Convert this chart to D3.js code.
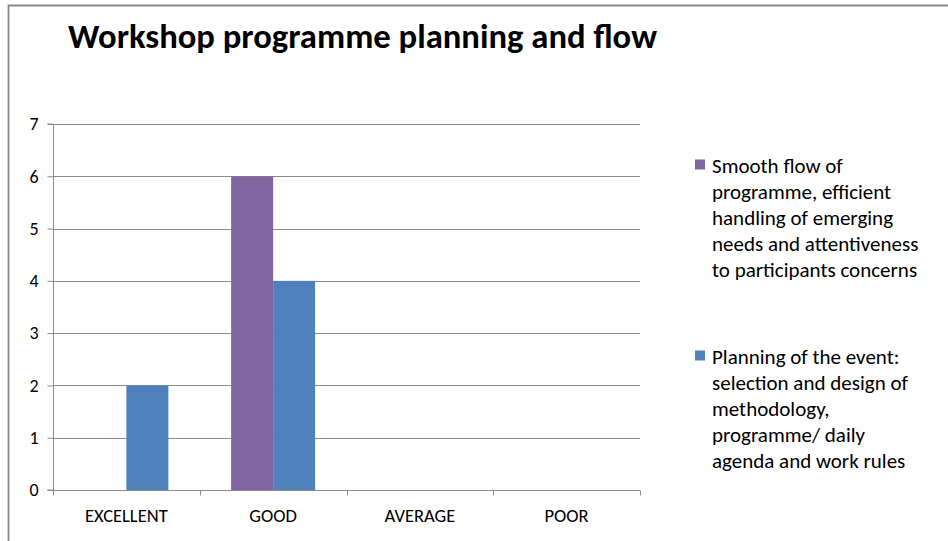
<!DOCTYPE html>
<html>
<head>
<meta charset="utf-8">
<script src="https://cdn.jsdelivr.net/npm/d3@7"></script>
<style>
  html, body { margin: 0; padding: 0; background: #fff; }
  svg { display: block; }
</style>
</head>
<body>
<svg id="chart" width="948" height="541"></svg>
<script>
// Ratings per category for each workshop aspect
const categories = ["EXCELLENT", "GOOD", "AVERAGE", "POOR"];
const seriesNames = [
  "Smooth flow of programme, efficient handling of emerging needs and attentiveness to participants concerns",
  "Planning of the event: selection and design of methodology, programme/ daily agenda and work rules"
];
const smoothFlowValues = [0, 6, 0, 0];
const planningValues = [2, 4, 0, 0];
const yTicks = [0, 1, 2, 3, 4, 5, 6, 7];
const seriesColors = ["#8064A2", "#4F81BD"];

const legendLines = [
  ["Smooth flow of", "programme, efficient", "handling of emerging", "needs and attentiveness", "to participants concerns"],
  ["Planning of the event:", "selection and design of", "methodology,", "programme/ daily", "agenda and work rules"]
];

const series = [smoothFlowValues, planningValues];
const FONT = "Carlito, Calibri, 'Open Sans', sans-serif";

const svg = d3.select("#chart");

// outer frame (top and left edges visible)
svg.append("path")
  .attr("d", "M8.5,541 L8.5,5.5 L948,5.5")
  .attr("fill", "none").attr("stroke", "#8a8a8a").attr("stroke-width", 1.8);

// title
svg.append("text")
  .attr("x", 68).attr("y", 48)
  .attr("font-family", FONT).attr("font-weight", "bold")
  .attr("font-size", 34).attr("fill", "#000")
  .attr("textLength", 589).attr("lengthAdjust", "spacingAndGlyphs")
  .text("Workshop programme planning and flow");

const plot = { left: 53, right: 640, top: 124, bottom: 490 };

const y = d3.scaleLinear().domain([0, 7]).range([plot.bottom, plot.top]);
const x0 = d3.scaleBand().domain(categories)
  .range([plot.left, plot.right])
  .paddingInner(0.4276).paddingOuter(0.2138);
const x1 = d3.scaleBand().domain(d3.range(series.length))
  .range([0, x0.bandwidth()]);

const g = svg.append("g");

// horizontal gridlines
g.selectAll("line.grid").data(yTicks.filter(d => d > 0)).join("line")
  .attr("class", "grid")
  .attr("x1", plot.left).attr("x2", plot.right)
  .attr("y1", d => Math.round(y(d)) + 0.5).attr("y2", d => Math.round(y(d)) + 0.5)
  .attr("stroke", "#8c8c8c").attr("stroke-width", 1);

// bars
series.forEach((vals, si) => {
  g.selectAll("rect.s" + si).data(categories.map((c, i) => ({ c, v: vals[i] })))
    .join("rect")
    .attr("class", "s" + si)
    .attr("x", d => x0(d.c) + x1(si))
    .attr("width", x1.bandwidth())
    .attr("y", d => y(d.v))
    .attr("height", d => y(0) - y(d.v))
    .attr("fill", seriesColors[si]);
});

// y axis
const yAxis = d3.axisLeft(y).tickValues(yTicks).tickSize(6).tickPadding(9).tickFormat(d3.format("d"));
const ya = svg.append("g").attr("transform", `translate(${plot.left + 0.5},0)`).call(yAxis);
ya.select(".domain").attr("stroke", "#8c8c8c").attr("d", `M-6,${y(7)}H0V${y(0)}H-6`);
ya.selectAll(".tick line").attr("stroke", "#8c8c8c");
ya.selectAll(".tick text").attr("font-family", FONT).attr("font-size", 18).attr("fill", "#000");

// x axis with boundary ticks between categories
const xa = svg.append("g").attr("transform", `translate(0,${Math.round(y(0)) + 0.5})`);
xa.append("line").attr("x1", plot.left).attr("x2", plot.right)
  .attr("stroke", "#8c8c8c");
const step = x0.step();
xa.selectAll("line.tk").data(d3.range(categories.length + 1)).join("line")
  .attr("class", "tk")
  .attr("x1", i => Math.round(plot.left + i * step) + 0.5)
  .attr("x2", i => Math.round(plot.left + i * step) + 0.5)
  .attr("y1", 0).attr("y2", 5)
  .attr("stroke", "#8c8c8c");
xa.selectAll("text").data(categories).join("text")
  .attr("x", d => x0(d) + x0.bandwidth() / 2)
  .attr("y", 31)
  .attr("text-anchor", "middle")
  .attr("font-family", FONT).attr("font-size", 18.5).attr("fill", "#000")
  .text(d => d);

// legend
const legend = svg.append("g");
const legendTop = [166, 357];
legendLines.forEach((lines, si) => {
  const lg = legend.append("g").attr("transform", `translate(0,${legendTop[si]})`);
  lg.append("rect").attr("x", 695).attr("y", -6.5).attr("width", 10).attr("height", 10)
    .attr("fill", seriesColors[si]);
  lg.selectAll("text").data(lines).join("text")
    .attr("x", 712).attr("y", (d, i) => i * 26 + 7)
    .attr("font-family", FONT).attr("font-size", 21).attr("fill", "#000")
    .text(d => d);
  lg.append("title").text(seriesNames[si]);
});
</script>
</body>
</html>
